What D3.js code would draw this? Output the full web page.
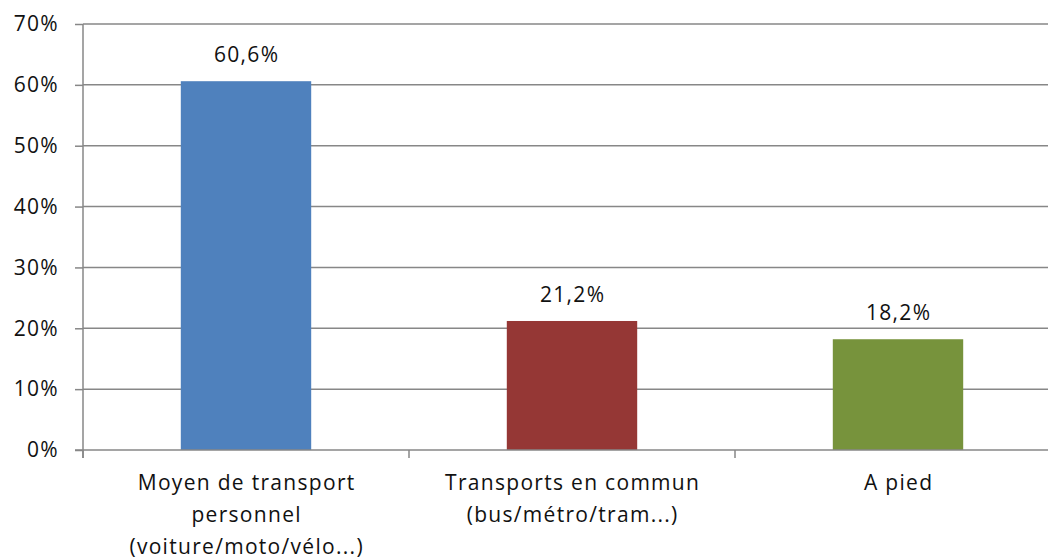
<!DOCTYPE html>
<html><head><meta charset="utf-8">
<script src="https://cdn.jsdelivr.net/npm/d3@7"></script>
<style>
html,body{margin:0;padding:0;background:#fff;}
svg{display:block;font-family:"Open Sans",sans-serif;}
</style></head>
<body>
<svg id="c" width="1048" height="560"></svg>
<script>
const categories = [
  ["Moyen de transport", "personnel", "(voiture/moto/vélo...)"],
  ["Transports en commun", "(bus/métro/tram...)"],
  ["A pied"]
];
const values = [60.6, 21.2, 18.2];
const valueLabels = ["60,6%", "21,2%", "18,2%"];
const colors = ["#4F81BD", "#953735", "#77933C"];
const yTicks = [0, 10, 20, 30, 40, 50, 60, 70];
const yTickLabels = ["0%", "10%", "20%", "30%", "40%", "50%", "60%", "70%"];

(function () {
const svg = d3.select("#c");
const pLeft = 83, pRight = 1061, pTop = 24, pBottom = 450;
const gridColor = "#878787";
const fs = 21, ls = 1.3;

const ids = categories.map((d, i) => i);
const x = d3.scaleBand().domain(ids).range([pLeft, pRight]).paddingInner(0.6).paddingOuter(0.3);
const y = d3.scaleLinear().domain([0, 70]).range([pBottom, pTop]);

const yAxis = d3.axisLeft(y).tickValues(yTicks).tickFormat((d, i) => yTickLabels[i]).tickSize(8).tickPadding(16);
const gy = svg.append("g").attr("transform", `translate(${pLeft},0)`).call(yAxis);
gy.select(".domain").remove();
gy.selectAll(".tick line").attr("stroke", gridColor).attr("stroke-width", 1.5);
gy.selectAll(".tick text").attr("font-size", fs).attr("letter-spacing", ls).attr("fill", "#111").attr("font-family", "Open Sans");
svg.append("g").selectAll("line").data(yTicks.filter(d => d > 0)).join("line")
  .attr("x1", pLeft).attr("x2", 1048).attr("y1", d => y(d)).attr("y2", d => y(d))
  .attr("stroke", gridColor).attr("stroke-width", 1.5);
svg.append("line").attr("x1", pLeft).attr("x2", pLeft).attr("y1", pTop).attr("y2", pBottom + 8)
  .attr("stroke", gridColor).attr("stroke-width", 1.5);

svg.append("g").selectAll("rect").data(values).join("rect")
  .attr("x", (d, i) => x(i)).attr("width", x.bandwidth())
  .attr("y", d => y(d)).attr("height", d => y(0) - y(d))
  .attr("fill", (d, i) => colors[i]);

svg.append("line").attr("x1", pLeft - 8).attr("x2", 1048).attr("y1", pBottom).attr("y2", pBottom)
  .attr("stroke", gridColor).attr("stroke-width", 1.5);
const step = x.step();
svg.append("g").selectAll("line").data(d3.range(0, 4)).join("line")
  .attr("x1", d => pLeft + d * step).attr("x2", d => pLeft + d * step)
  .attr("y1", pBottom).attr("y2", pBottom + 8)
  .attr("stroke", gridColor).attr("stroke-width", 1.5);

svg.append("g").selectAll("text").data(values).join("text")
  .attr("x", (d, i) => x(i) + x.bandwidth() / 2 + ls / 2).attr("y", d => y(d) - 19)
  .attr("text-anchor", "middle").attr("font-size", fs).attr("letter-spacing", ls).attr("fill", "#111")
  .text((d, i) => valueLabels[i]);

const cg = svg.append("g").selectAll("text").data(categories).join("text")
  .attr("x", (d, i) => x(i) + x.bandwidth() / 2 + ls / 2).attr("y", 490)
  .attr("text-anchor", "middle").attr("font-size", fs).attr("letter-spacing", ls).attr("fill", "#111");
cg.selectAll("tspan").data(d => d).join("tspan")
  .attr("x", function() { return this.parentNode.getAttribute("x"); })
  .attr("dy", (d, i) => i === 0 ? 0 : 31.8)
  .text(d => d);
})();
</script>
</body></html>
